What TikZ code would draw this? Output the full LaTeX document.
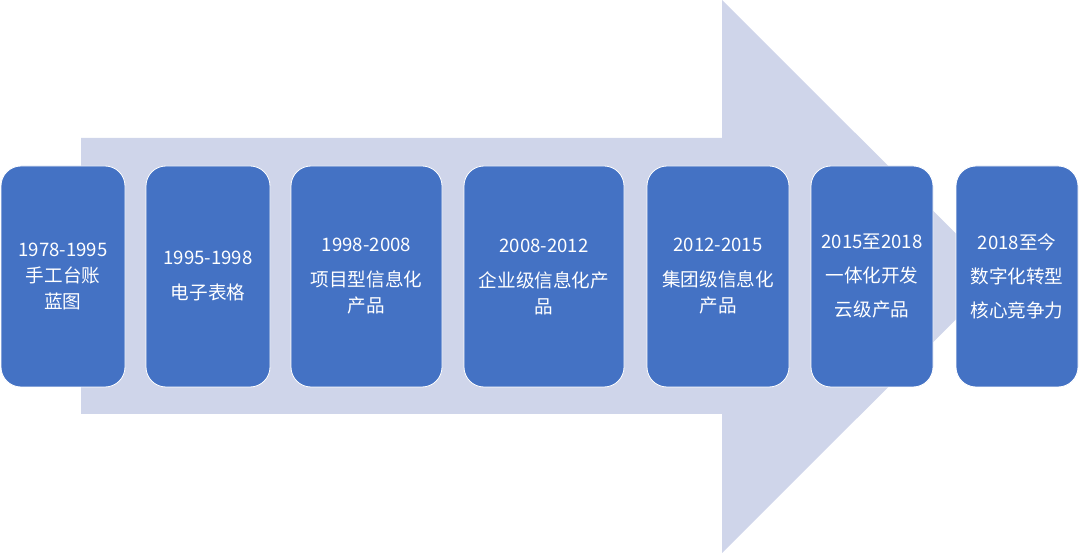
\documentclass[tikz,border=0pt]{standalone}
\usepackage{fontspec}
\setmainfont{Noto Sans CJK SC}
\definecolor{boxblue}{HTML}{4472C4}
\definecolor{arrowfill}{HTML}{CFD5EA}
\begin{document}
\begin{tikzpicture}[x=1pt,y=-1pt,
  stagebox/.style={draw=white, line width=0.8pt, fill=boxblue, rounded corners=20pt,
    text=white, align=center, inner sep=0pt,
    minimum height=221pt,
    font=\fontsize{18.6}{26}\selectfont},
]
\useasboundingbox (0,0) rectangle (1080,553);
% big arrow
\fill[arrowfill] (81,138) -- (722,138) -- (722,0) -- (999,276.5) -- (722,553) -- (722,414) -- (81,414) -- cycle;
% boxes
\node[stagebox, minimum width=124pt] (b1) at (63,276.5) {1978-1995\\手工台账\\蓝图};
\node[stagebox, minimum width=124pt] (b2) at (208,276.5) {1995-1998\\[9pt]电子表格};
\node[stagebox, minimum width=151pt] (b3) at (366.5,276.5) {1998-2008\\[9pt]项目型信息化\\产品};
\node[stagebox, minimum width=160pt] (b4) at (544,276.5) {2008-2012\\[9pt]企业级信息化产\\品};
\node[stagebox, minimum width=142pt] (b5) at (718,276.5) {2012-2015\\[9pt]集团级信息化\\产品};
\node[stagebox, minimum width=122pt] (b6) at (872,276.5) {2015至2018\\[8pt]一体化开发\\[8pt]云级产品};
\node[stagebox, minimum width=122pt] (b7) at (1017,276.5) {2018至今\\[8pt]数字化转型\\[8pt]核心竞争力};
\end{tikzpicture}
\end{document}
